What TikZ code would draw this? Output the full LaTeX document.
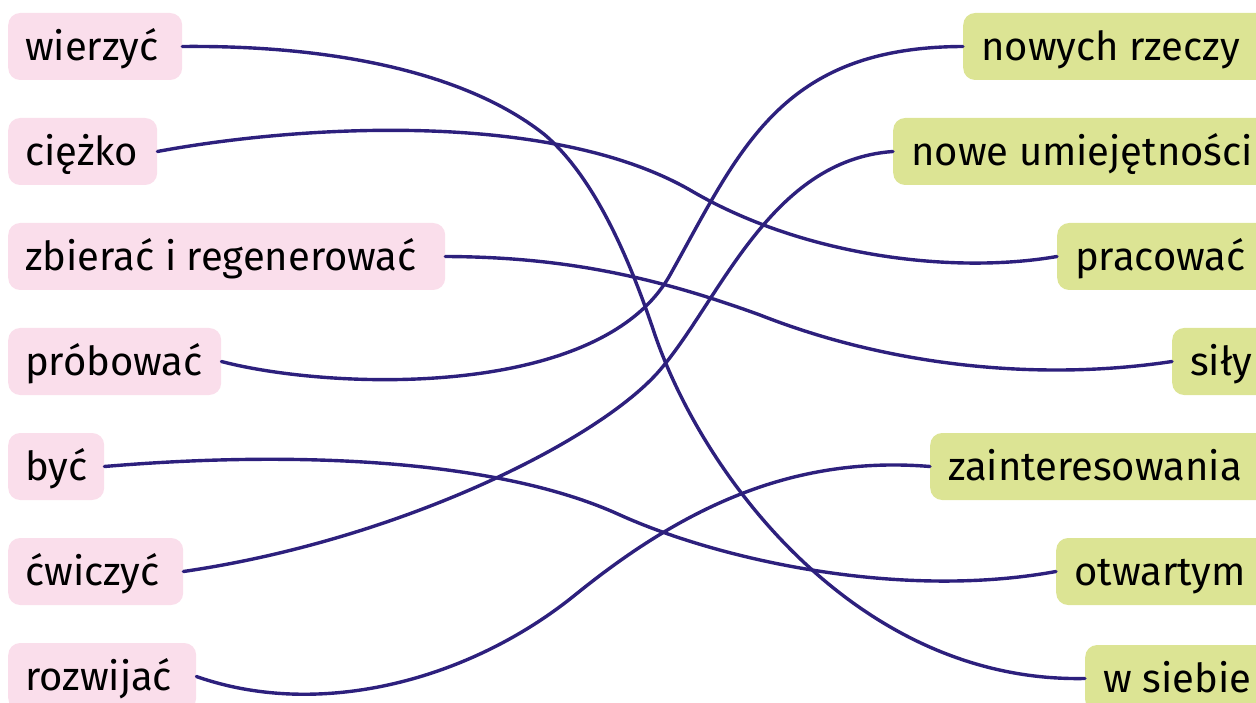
\documentclass[tikz,border=0pt]{standalone}
\usepackage{fontspec}
\setmainfont{Fira Sans}
\definecolor{pinkbox}{RGB}{250,222,235}
\definecolor{greenbox}{RGB}{220,228,148}
\definecolor{linec}{RGB}{45,32,125}
\newcommand\lbl[2]{\makebox[#1][l]{#2}}
\begin{document}
\begin{tikzpicture}[x=1pt,y=-1pt,
  box/.style={rounded corners=12pt, anchor=west, minimum height=67pt, inner ysep=0pt,
    text height=30pt, text depth=2pt, font=\fontsize{40}{48}\selectfont},
  lbox/.style={box, fill=pinkbox, inner xsep=17pt},
  rbox/.style={box, fill=greenbox, inner xsep=18pt},
  conn/.style={draw=linec, line width=3.4pt, line cap=round}]
\useasboundingbox (0,0) rectangle (1256,703);
\clip (0,0) rectangle (1256,703);
% left
\node[lbox] (w1) at (8,46.5)  {\lbl{140pt}{wierzyć}};
\node[lbox] (w2) at (8,151.5) {\lbl{115pt}{ciężko}};
\node[lbox] (w3) at (8,256.5) {\lbl{403pt}{zbierać i regenerować}};
\node[lbox] (w4) at (8,361.5) {\lbl{179pt}{próbować}};
\node[lbox] (w5) at (8,466.5) {\lbl{62pt}{być}};
\node[lbox] (w6) at (8,571.5) {\lbl{141pt}{ćwiczyć}};
\node[lbox] (w7) at (8,676.5) {\lbl{154pt}{rozwijać}};
% right
\node[rbox] (r1) at (963,46.5)  {\lbl{330pt}{nowych rzeczy}};
\node[rbox] (r2) at (893,151.5) {\lbl{400pt}{nowe umiejętności}};
\node[rbox] (r3) at (1057,256.5) {\lbl{240pt}{pracować}};
\node[rbox] (r4) at (1172,361.5) {\lbl{120pt}{siły}};
\node[rbox] (r5) at (930,466.5) {\lbl{360pt}{zainteresowania}};
\node[rbox] (r6) at (1056,571.5) {\lbl{240pt}{otwartym}};
\node[rbox] (r7) at (1085,678.5) {\lbl{210pt}{w siebie}};
% connectors
\draw[conn] (w1.east) .. controls (340,45) and (470,75) .. (545,135)
  .. controls (595,178) and (630,260) .. (655,335)
  .. controls (705,480) and (860,683) .. (r7.west);
\draw[conn] (w2.east) .. controls (300,125) and (550,110) .. (690,190)
  .. controls (800,255) and (950,275) .. (r3.west);
\draw[conn] (w3.east) .. controls (560,257) and (650,275) .. (760,315)
  .. controls (900,370) and (1050,380) .. (r4.west);
\draw[conn] (w4.east) .. controls (330,390) and (600,400) .. (670,275)
  .. controls (740,150) and (780,47) .. (r1.west);
\draw[conn] (w5.east) .. controls (300,450) and (500,460) .. (620,515)
  .. controls (720,560) and (900,600) .. (r6.west);
\draw[conn] (w6.east) .. controls (400,540) and (600,440) .. (660,370)
  .. controls (720,300) and (770,160) .. (r2.west);
\draw[conn] (w7.east) .. controls (320,720) and (470,680) .. (575,595)
  .. controls (680,510) and (790,455) .. (r5.west);
\end{tikzpicture}
\end{document}
